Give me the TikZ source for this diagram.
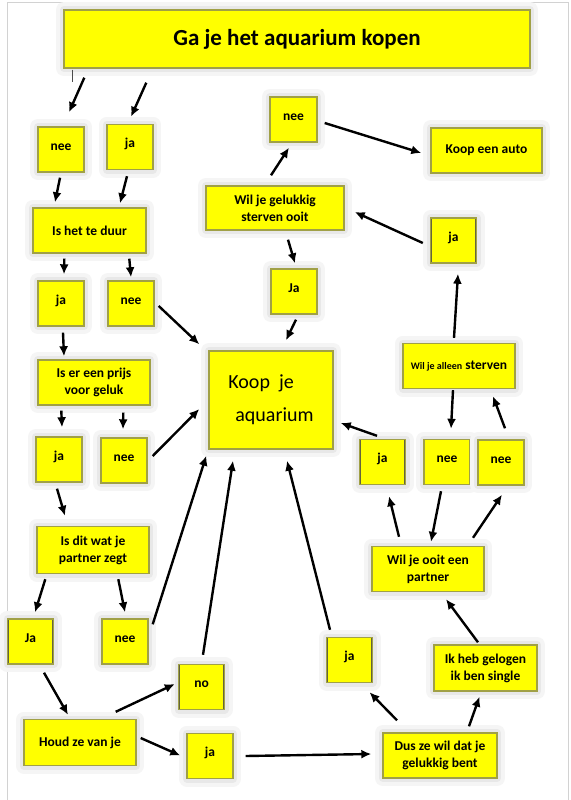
\documentclass[tikz,border=0pt]{standalone}
\usepackage{fontspec}
\setmainfont{Carlito}
\usepackage{tikz}
\usetikzlibrary{arrows.meta}
\definecolor{knopgeel}{RGB}{255,255,0}
\definecolor{knoprand}{RGB}{160,160,70}
\definecolor{knopdonker}{RGB}{100,100,60}

\begin{document}
\begin{tikzpicture}[x=1pt,y=-1pt,
  knop/.style={fill=knopgeel, draw=knoprand, line width=1.4pt, inner sep=0pt,
    align=center, font=\bfseries\fontsize{13.5}{17}\selectfont,
    preaction={draw=black!4, line width=16pt, line join=round},
    preaction={draw=black!9, line width=8pt, line join=round},
    path picture={\draw[knopdonker, line width=2.6pt]
      (path picture bounding box.north west) -- (path picture bounding box.south west)
      (path picture bounding box.north east) -- (path picture bounding box.south east);}},
  klein/.style={knop, minimum width=46pt, minimum height=45pt, text height=9pt, text depth=8pt},
  pijl/.style={-{Latex[length=10pt,width=9pt]}, line width=2.4pt}]
  \useasboundingbox (0,0) rectangle (570,800);
  \fill[white] (0,0) rectangle (570,800);
  \draw[gray!35, line width=1pt] (7,800) -- (7,3) -- (568,3) -- (568,800);

  % linkerkolom
  \node[knop, minimum width=466pt, minimum height=58pt,
    font=\bfseries\fontsize{23}{28}\selectfont] (titel) at (297,39) {Ga je het aquarium kopen};
  \node[klein] (nee1) at (61,149.5) {nee};
  \node[klein] (ja1) at (130,147) {ja};
  \node[knop, minimum width=113pt, minimum height=45pt] (duur) at (89.5,230.5) {Is het te duur};
  \node[klein] (ja2) at (61,303.5) {ja};
  \node[klein] (nee2) at (131,303.5) {nee};
  \node[knop, minimum width=112pt, minimum height=45pt] (prijs) at (94,382.5) {Is er een prijs\\voor geluk};
  \node[klein] (ja3) at (59,459.5) {ja};
  \node[klein] (nee3) at (124,460.5) {nee};
  \node[knop, minimum width=112pt, minimum height=47pt] (zegt) at (93,550) {Is dit wat je\\partner zegt};
  \node[klein] (ja4) at (30.5,641.5) {Ja};
  \node[klein] (nee4) at (125,641.5) {nee};
  \node[knop, minimum width=112pt, minimum height=46pt] (houd) at (80,742.5) {Houd ze van je};
  \node[klein] (no) at (201.5,687) {no};
  \node[klein] (ja5) at (210,756) {ja};

  % midden
  \node[knop, minimum width=124pt, minimum height=98pt, align=left,
    font=\fontsize{20}{33}\selectfont] (koop) at (271,400) {Koop\ \ je\\\hspace*{7pt}aquarium};
  \node[klein, minimum width=47pt, minimum height=45pt] (nee7) at (293.5,119.5) {nee};
  \node[knop, minimum width=138pt, minimum height=44pt] (gelukkig) at (275,208) {Wil je gelukkig\\sterven ooit};
  \node[klein] (ja9) at (294,291.5) {Ja};
  \node[knop, minimum width=111pt, minimum height=45pt] (auto) at (486.5,150.5) {Koop een auto};

  % rechterkolom
  \node[klein] (ja8) at (453.5,240.5) {ja};
  \node[knop, minimum width=112pt, minimum height=45pt] (alleen) at (459,366)
    {{\fontsize{10}{12}\selectfont Wil je alleen} sterven};
  \node[klein] (ja7) at (382.5,462) {ja};
  \node[klein] (nee5) at (447,462) {nee};
  \node[klein] (nee6) at (501,462.5) {nee};
  \node[knop, minimum width=112pt, minimum height=45pt] (ooit) at (428,569) {Wil je ooit een\\partner};
  \node[klein] (ja6) at (349.5,660) {ja};
  \node[knop, minimum width=103pt, minimum height=46pt] (single) at (485.5,668) {Ik heb gelogen\\ik ben single};
  \node[knop, minimum width=114pt, minimum height=45pt] (dus) at (440,755.5) {Dus ze wil dat je\\gelukkig bent};

  % losse streep onder de titel
  \draw[black!70, line width=0.6pt] ([shift={(9,1)}]titel.south west) -- ++(0,12);

  % pijlen
  \draw[pijl] ([shift={(21,9)}]titel.south west) -- ([shift={(8,-14)}]nee1.north);
  \draw[pijl] ([shift={(83,14)}]titel.south west) -- ([shift={(1,-7)}]ja1.north);
  \draw[pijl] ([shift={(-1,5)}]nee1.south) -- ([shift={(-34.5,-5)}]duur.north);
  \draw[pijl] ([shift={(-3,6)}]ja1.south) -- ([shift={(30.5,-4)}]duur.north);
  \draw[pijl] ([shift={(32,5)}]duur.south west) -- ([shift={(3,-6)}]ja2.north);
  \draw[pijl] ([shift={(97,5)}]duur.south west) -- ([shift={(0,-3)}]nee2.north);
  \draw[pijl] ([shift={(4,2.5)}]nee2.east) -- ([shift={(-9,-6)}]koop.north west);
  \draw[pijl] ([shift={(2,6)}]ja2.south) -- ([shift={(-30,-3)}]prijs.north);
  \draw[pijl] ([shift={(24,5)}]prijs.south west) -- ([shift={(3,-9)}]ja3.north);
  \draw[pijl] ([shift={(86,7)}]prijs.south west) -- ([shift={(-1,-8)}]nee3.north);
  \draw[pijl] ([shift={(5,-4.5)}]nee3.east) -- ([shift={(-9,9)}]koop.west);
  \draw[pijl] ([shift={(-2,6)}]ja3.south) -- ([shift={(-28,-10)}]zegt.north);
  \draw[pijl] ([shift={(9,5)}]zegt.south west) -- ([shift={(4.5,-6)}]ja4.north);
  \draw[pijl] ([shift={(82,5)}]zegt.south west) -- ([shift={(0,-6)}]nee4.north);
  \draw[pijl] ([shift={(4,6)}]nee4.north east) -- ([shift={(-2,6)}]koop.south west);
  \draw[pijl] ([shift={(1.5,-9)}]no.north) -- ([shift={(-38,11)}]koop.south);
  \draw[pijl] ([shift={(-19.5,-7)}]ja6.north) -- ([shift={(16,11)}]koop.south);
  \draw[pijl] ([shift={(13.5,8)}]ja4.south) -- ([shift={(-12,-4)}]houd.north);
  \draw[pijl] ([shift={(-21,-7)}]houd.north east) -- ([shift={(-3,-3)}]no.west);
  \draw[pijl] ([shift={(4,-4.5)}]houd.east) -- ([shift={(-6,-0.5)}]ja5.west);
  \draw[pijl] ([shift={(12,0)}]ja5.east) -- ([shift={(-11,-1.5)}]dus.west);
  \draw[pijl] ([shift={(-43,-12)}]dus.north) -- ([shift={(20,9)}]ja6.south);
  \draw[pijl] ([shift={(29,-6)}]dus.north) -- ([shift={(-6,5)}]single.south);
  \draw[pijl] ([shift={(-7.5,-2)}]single.north) -- ([shift={(18,7)}]ooit.south);
  \draw[pijl] ([shift={(-29,-9)}]ooit.north) -- ([shift={(6.5,11)}]ja7.south);
  \draw[pijl] ([shift={(-6,6)}]nee5.south) -- ([shift={(3,-4)}]ooit.north);
  \draw[pijl] ([shift={(45,-8)}]ooit.north) -- ([shift={(1,9)}]nee6.south);
  \draw[pijl] ([shift={(-5.5,-3)}]ja7.north) -- ([shift={(7,23)}]koop.east);
  \draw[pijl] ([shift={(-6,1)}]alleen.south) -- ([shift={(4,-10)}]nee5.north);
  \draw[pijl] ([shift={(4,-11)}]nee6.north) -- ([shift={(34,7)}]alleen.south);
  \draw[pijl] ([shift={(-5,-5)}]alleen.north) -- ([shift={(4.5,10)}]ja8.south);
  \draw[pijl] ([shift={(-7,2.5)}]ja8.west) -- ([shift={(10,4)}]gelukkig.east);
  \draw[pijl] ([shift={(-4,-10)}]gelukkig.north) -- ([shift={(-4.5,5)}]nee7.south);
  \draw[pijl] ([shift={(7,3.5)}]nee7.east) -- ([shift={(-9,2.5)}]auto.west);
  \draw[pijl] ([shift={(13,9)}]gelukkig.south) -- ([shift={(1,-5)}]ja9.north);
  \draw[pijl] ([shift={(2,5)}]ja9.south) -- ([shift={(15,-10)}]koop.north);
\end{tikzpicture}
\end{document}
